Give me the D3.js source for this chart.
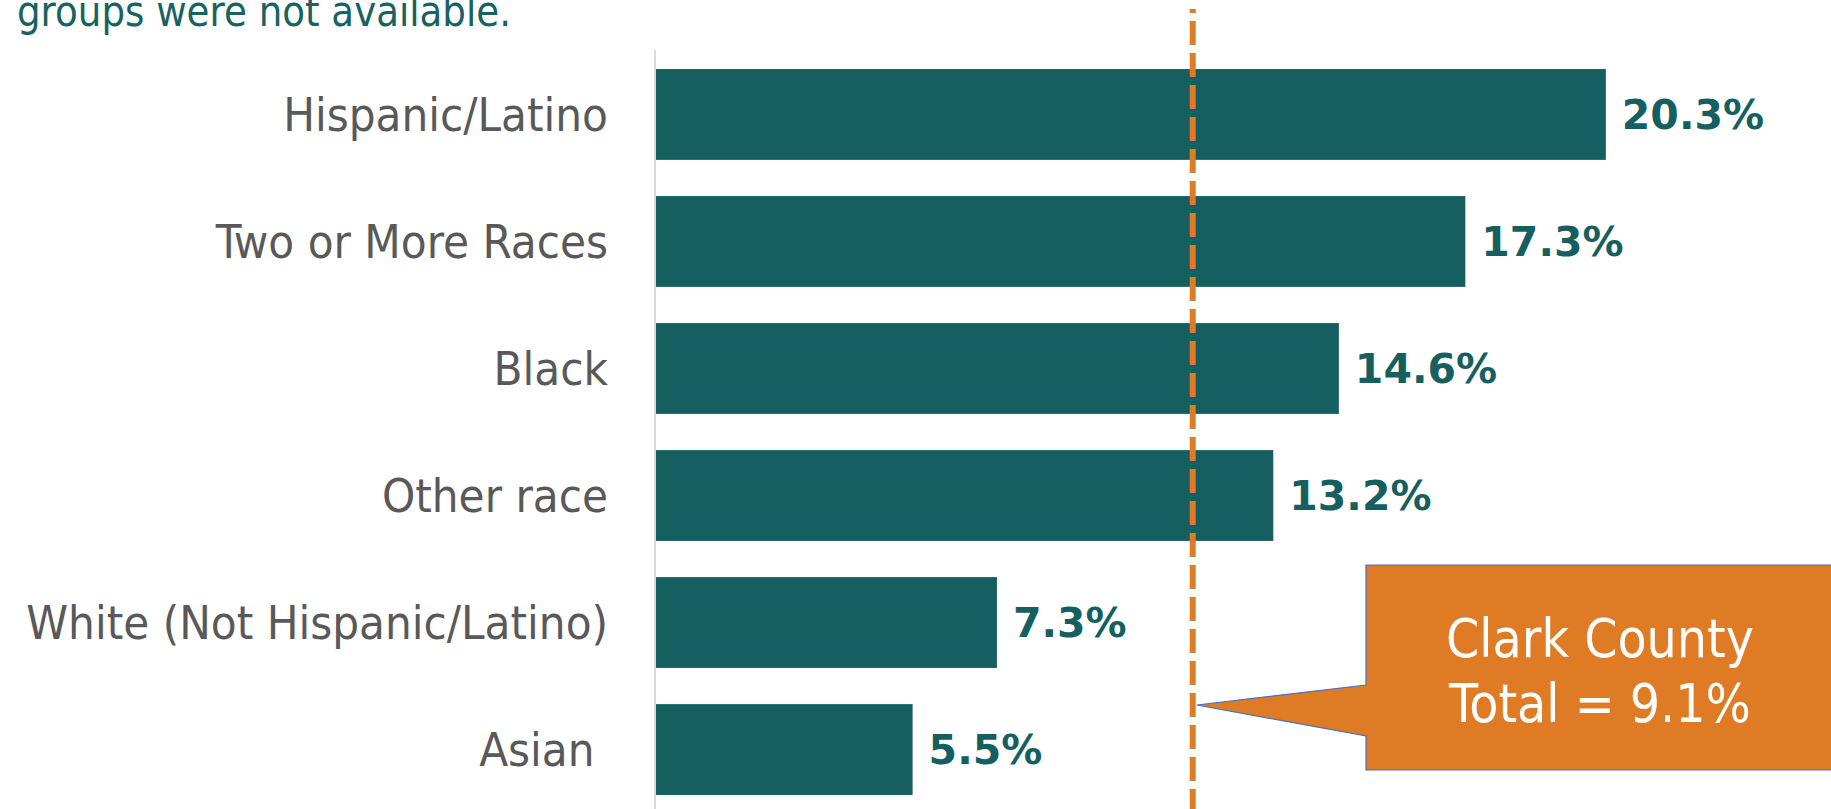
<!DOCTYPE html>
<html>
<head>
<meta charset="utf-8">
<script src="https://cdn.jsdelivr.net/npm/d3@7"></script>
<style>
  html, body { margin: 0; padding: 0; background: #ffffff; overflow: hidden; }
  svg { display: block; }
</style>
</head>
<body>
<svg id="chart" width="1831" height="809"></svg>
<script>
// ---- data ----
const categories = ["Hispanic/Latino", "Two or More Races", "Black", "Other race", "White (Not Hispanic/Latino)", "Asian "];
const values = [20.3, 17.3, 14.6, 13.2, 7.3, 5.5];
const valueLabels = ["20.3%", "17.3%", "14.6%", "13.2%", "7.3%", "5.5%"];
const countyTotal = 9.1;
const refLinePosition = 11.48; // where the dashed reference line is drawn in the picture (x-scale units)
const calloutLines = ["Clark County", "Total = " + countyTotal + "%"];
const noteText = "groups were not available.";

// ---- layout ----
const W = 1831, H = 809;
const teal = "#155f60";
const orange = "#e07b25";
const svg = d3.select("#chart");

const x = d3.scaleLinear().domain([0, 25]).range([655, 1826]);
const y = d3.scaleBand().domain(categories).range([50, 814]).paddingInner(0.285).paddingOuter(0.15);

// note text (partially cut at top, as in the source)
svg.append("text")
  .attr("x", 17).attr("y", 26)
  .attr("fill", "#186262")
  .attr("font-family", "DejaVu Sans")
  .attr("font-size", 42)
  .attr("textLength", 494)
  .attr("lengthAdjust", "spacingAndGlyphs")
  .text(noteText);

// axis line
svg.append("line")
  .attr("x1", x(0)).attr("x2", x(0))
  .attr("y1", 50).attr("y2", H)
  .attr("stroke", "#d9d9d9").attr("stroke-width", 2);

// bars
svg.selectAll("rect.bar").data(values).join("rect")
  .attr("class", "bar")
  .attr("x", x(0) + 1)
  .attr("y", (d, i) => y(categories[i]))
  .attr("width", d => x(d) - x(0) - 1)
  .attr("height", y.bandwidth())
  .attr("fill", teal);

// category labels
svg.selectAll("text.cat").data(categories).join("text")
  .attr("class", "cat")
  .attr("x", x(0) - 47)
  .attr("y", d => y(d) + y.bandwidth() / 2)
  .attr("dy", "0.35em")
  .attr("text-anchor", "end")
  .attr("fill", "#595959")
  .attr("font-family", "DejaVu Sans Condensed, DejaVu Sans")
  .attr("font-size", 47)
  .style("white-space", "pre")
  .text(d => d);

// value labels
svg.selectAll("text.val").data(values).join("text")
  .attr("class", "val")
  .attr("x", d => x(d) + 16)
  .attr("y", (d, i) => y(categories[i]) + y.bandwidth() / 2)
  .attr("dy", "0.36em")
  .attr("fill", teal)
  .attr("font-family", "DejaVu Sans")
  .attr("font-weight", "bold")
  .attr("font-size", 41)
  .text((d, i) => valueLabels[i]);

// dashed reference line
const lx = x(refLinePosition);
svg.append("line")
  .attr("x1", lx).attr("x2", lx)
  .attr("y1", 9).attr("y2", H)
  .attr("stroke", orange).attr("stroke-width", 6)
  .attr("stroke-dasharray", "24 8")
  .attr("stroke-dashoffset", 20);

// callout
const bx0 = 1366, by0 = 565, bx1 = 1834, by1 = 770;
const tipX = lx + 4, tipY = 705;
const calloutPath = [
  [bx0, by0], [bx1, by0], [bx1, by1], [bx0, by1],
  [bx0, 736], [tipX, tipY], [bx0, 685]
];
svg.append("path")
  .attr("d", d3.line()(calloutPath) + "Z")
  .attr("fill", orange)
  .attr("stroke", "#4472c4")
  .attr("stroke-width", 1.2);

svg.selectAll("text.callout").data(calloutLines).join("text")
  .attr("class", "callout")
  .attr("x", 1600)
  .attr("y", (d, i) => 657 + i * 65)
  .attr("text-anchor", "middle")
  .attr("fill", "#ffffff")
  .attr("font-family", "DejaVu Sans Condensed, DejaVu Sans")
  .attr("font-size", 53)
  .text(d => d);
</script>
</body>
</html>
